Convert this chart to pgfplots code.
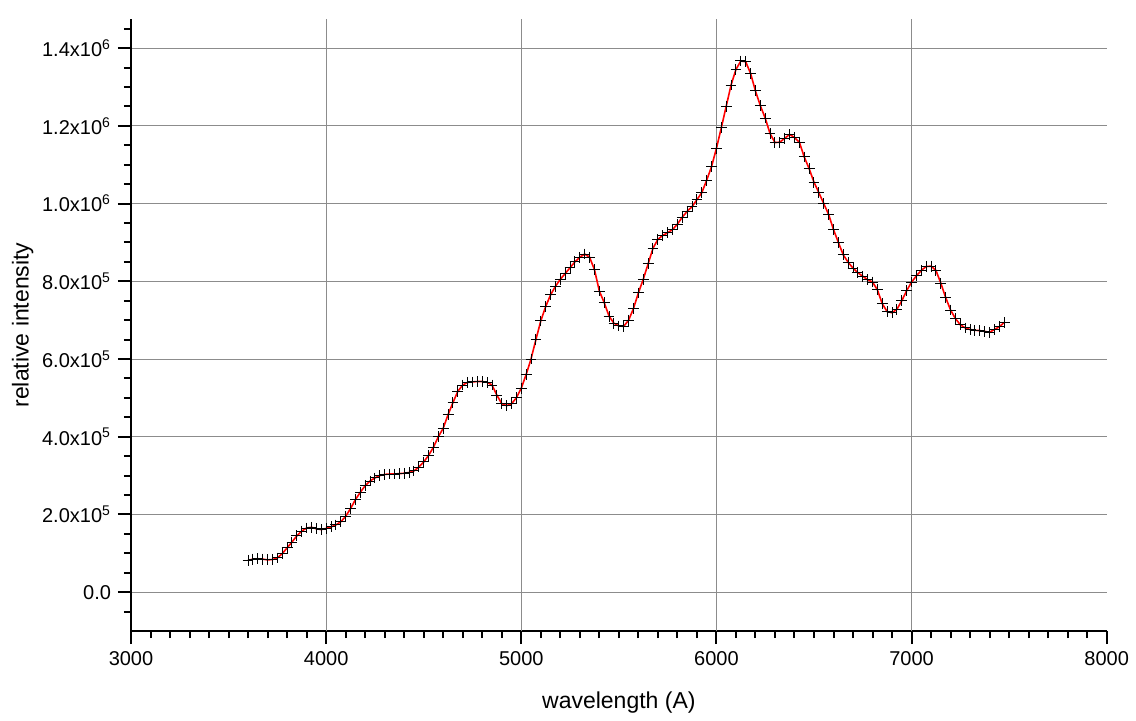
\documentclass[border=0pt]{standalone}
\usepackage{fontspec}
\setmainfont{Liberation Sans}
\usepackage{pgfplots}
\pgfplotsset{compat=1.18}
\usepackage{pgfplotstable}
\pgfplotstableread{
x y
3600 82000
3625 85000
3650 86000
3675 85000
3700 83000
3725 84000
3750 88000
3775 99000
3800 114000
3825 129000
3850 145000
3875 157000
3900 165000
3925 167000
3950 163000
3975 161000
4000 164000
4025 168000
4050 173000
4075 181000
4100 195000
4125 215000
4150 238000
4175 257000
4200 274000
4225 286000
4250 294000
4275 300000
4300 303000
4325 304000
4350 304000
4375 305000
4400 306000
4425 308000
4450 312000
4475 322000
4500 335000
4525 352000
4550 373000
4575 400000
4600 422000
4625 457000
4650 488000
4675 517000
4700 533000
4725 540000
4750 541000
4775 542000
4800 542000
4825 540000
4850 533000
4875 507000
4900 485000
4925 480000
4950 485000
4975 500000
5000 525000
5025 560000
5050 600000
5075 650000
5100 698000
5125 735000
5150 765000
5175 787000
5200 805000
5225 820000
5250 835000
5275 850000
5300 862000
5325 870000
5350 862000
5375 830000
5400 775000
5425 745000
5450 710000
5475 692000
5500 685000
5525 684000
5550 700000
5575 730000
5600 770000
5625 805000
5650 845000
5675 885000
5700 908000
5725 918000
5750 925000
5775 933000
5800 947000
5825 965000
5850 980000
5875 992000
5900 1010000
5925 1028000
5950 1060000
5975 1095000
6000 1142000
6025 1195000
6050 1250000
6075 1305000
6100 1345000
6125 1367000
6150 1365000
6175 1335000
6200 1290000
6225 1252000
6250 1220000
6275 1180000
6300 1157000
6325 1158000
6350 1168000
6375 1178000
6400 1170000
6425 1158000
6450 1120000
6475 1090000
6500 1055000
6525 1028000
6550 1000000
6575 972000
6600 933000
6625 900000
6650 868000
6675 849000
6700 834000
6725 822000
6750 813000
6775 804000
6800 798000
6825 778000
6850 742000
6875 722000
6900 719000
6925 728000
6950 750000
6975 776000
7000 798000
7025 814000
7050 828000
7075 838000
7100 839000
7125 828000
7150 795000
7175 758000
7200 726000
7225 704000
7250 688000
7275 680000
7300 676000
7325 674000
7350 673000
7375 671000
7400 669000
7425 676000
7450 683000
7475 694000
}\spectrum
\definecolor{gridgray}{RGB}{140,140,140}
\begin{document}
\begin{tikzpicture}[x=1pt,y=1pt]
\path[use as bounding box] (0,0) rectangle (568,360);
\begin{axis}[
  at={(65.5pt,44.5pt)}, anchor=south west,
  scale only axis, width=487.85pt, height=306pt,
  xmin=3000, xmax=8000, ymin=-100000, ymax=1475000,
  axis x line*=bottom, axis y line*=left,
  axis line style={line width=1pt, black},
  tick align=outside,
  major tick length=6.5pt, minor tick length=3.5pt,
  every tick/.style={black, line width=1pt},
  xtick={3000,4000,5000,6000,7000,8000},
  xticklabels={3000,4000,5000,6000,7000,8000},
  minor xtick={3100,3200,3300,3400,3500,3600,3700,3800,3900,4100,4200,4300,4400,4500,4600,4700,4800,4900,5100,5200,5300,5400,5500,5600,5700,5800,5900,6100,6200,6300,6400,6500,6600,6700,6800,6900,7100,7200,7300,7400,7500,7600,7700,7800,7900},
  extra x ticks={4000,5000,6000,7000},
  extra x tick style={xmajorgrids=true, major tick length=0pt, xticklabel={}},
  ytick={0,200000,400000,600000,800000,1000000,1200000,1400000},
  yticklabels={0.0,2.0x10\textsuperscript{5},4.0x10\textsuperscript{5},6.0x10\textsuperscript{5},8.0x10\textsuperscript{5},1.0x10\textsuperscript{6},1.2x10\textsuperscript{6},1.4x10\textsuperscript{6}},
  minor ytick={-50000,50000,100000,150000,250000,300000,350000,450000,500000,550000,650000,700000,750000,850000,900000,950000,1050000,1100000,1150000,1250000,1300000,1350000,1450000},
  scaled y ticks=false,
  ymajorgrids=true,
  major grid style={gridgray, line width=0.5pt},
  ticklabel style={font=\fontsize{10}{12}\selectfont},
  xlabel={wavelength (A)},
  ylabel={relative intensity},
  label style={font=\fontsize{11.5}{14}\selectfont},
  xlabel style={at={(axis description cs:0.5,-0.1176)}, anchor=center},
  ylabel style={at={(axis description cs:-0.111,0.5)}, anchor=center, rotate=0},
]
\addplot[red, line width=0.8pt] table[x=x,y=y] {\spectrum};
\addplot[only marks, mark=+, mark size=2.7pt, mark options={black, line width=0.5pt}] table[x=x,y=y] {\spectrum};
\end{axis}
\end{tikzpicture}
\end{document}
